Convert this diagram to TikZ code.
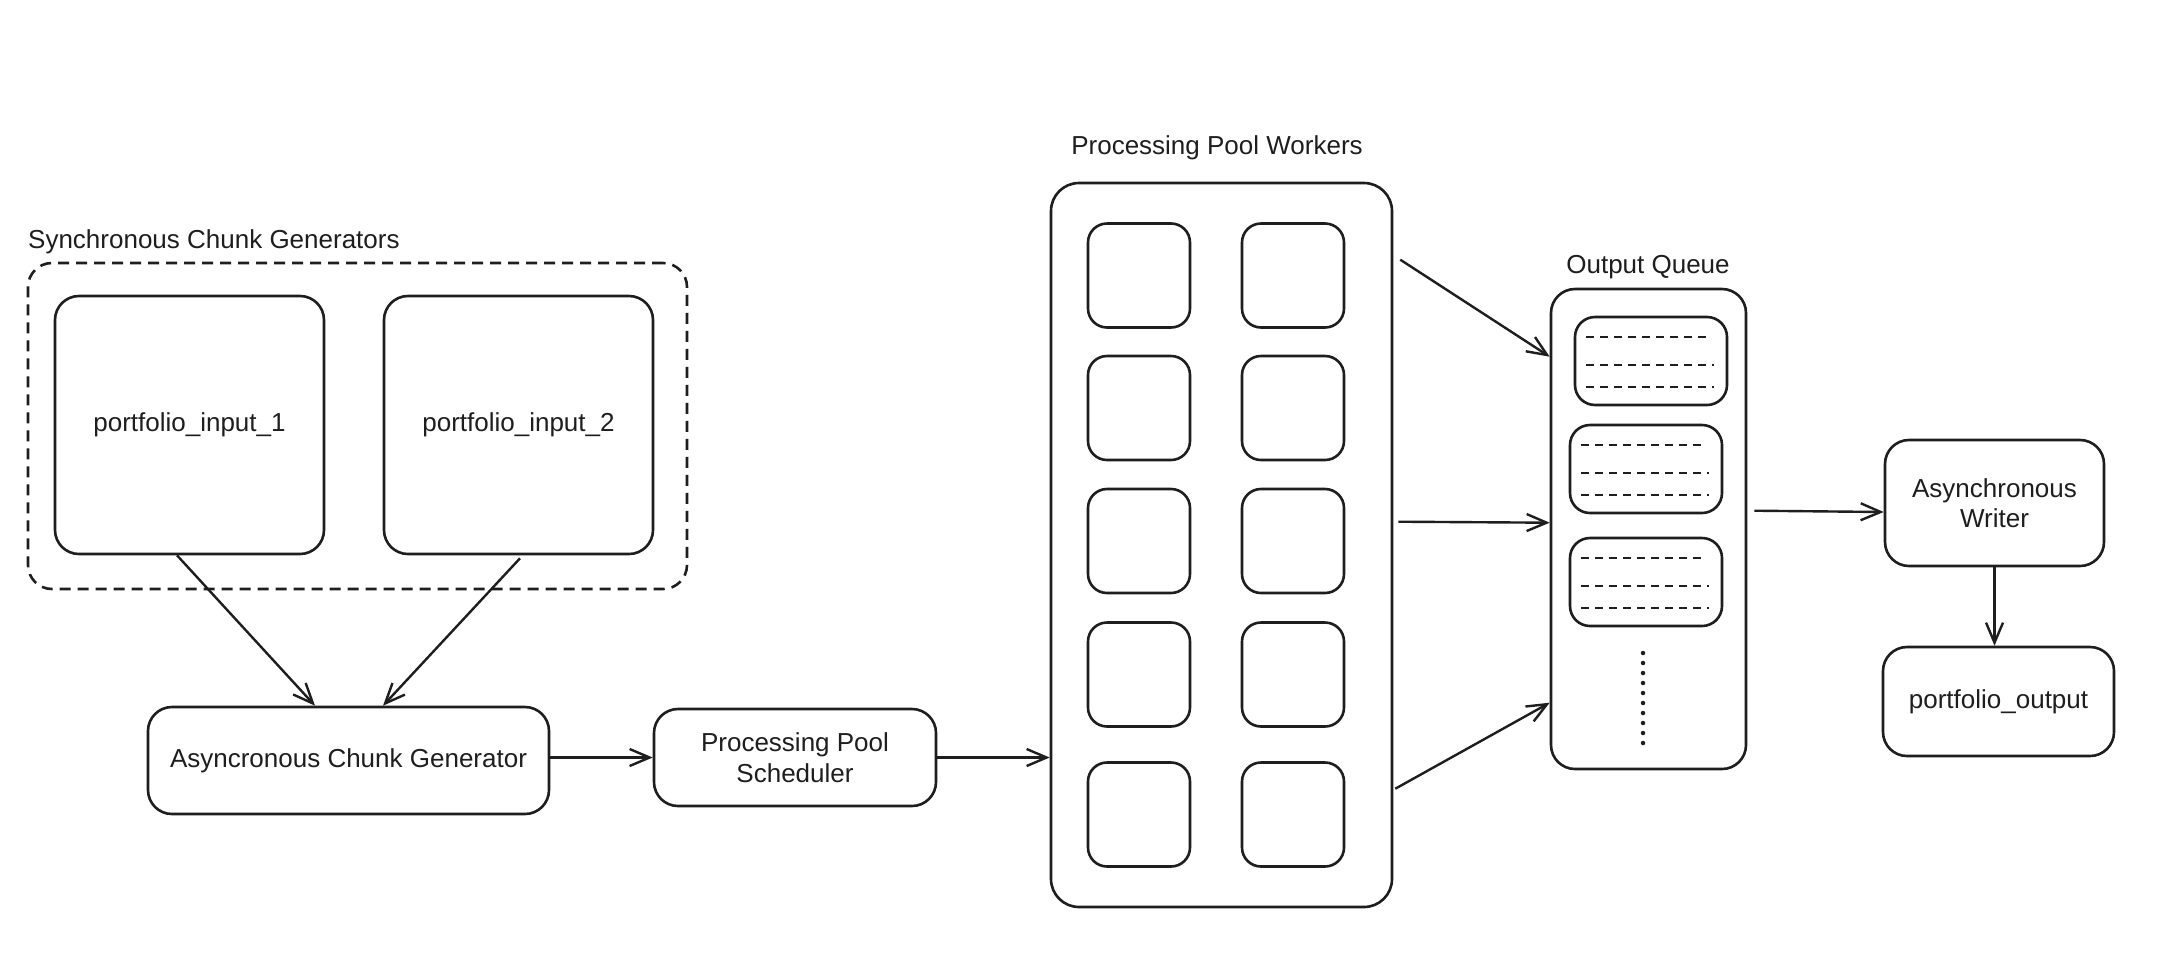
\documentclass[tikz,border=0pt]{standalone}
\usepackage{fontspec}
\setmainfont{Liberation Sans}
\usetikzlibrary{arrows.meta,calc}
\definecolor{ink}{HTML}{1E1E1E}
\newcommand\lblfont{\fontsize{26}{30.5}\selectfont}
\begin{document}
\begin{tikzpicture}[x=1pt,y=-1pt,
  box/.style={draw=ink, line width=2.6pt, rounded corners=24pt, inner sep=0pt, align=center, font=\lblfont, text=ink},
  groupbox/.style={draw=ink, line width=2.6pt, rounded corners=24pt, inner sep=0pt, dash pattern=on 11pt off 7pt},
  cell/.style={draw=ink, line width=2.6pt, rounded corners=19pt, minimum width=102pt, minimum height=104pt, inner sep=0pt},
  slot/.style={draw=ink, line width=2.6pt, rounded corners=20pt, minimum width=152pt, minimum height=88pt, inner sep=0pt},
  title/.style={font=\lblfont, inner sep=0pt, text=ink},
  conn/.style={draw=ink, line width=2.4pt, -{Straight Barb[length=20pt,width=17pt,line width=2.4pt]}},
  rowdash/.style={draw=ink, line width=2.6pt, dash pattern=on 8pt off 6pt},
  dotline/.style={draw=ink, line width=4.5pt, line cap=round, dash pattern=on 0pt off 10pt},
]
\fill[white] (0,0) rectangle (2168,962);
\useasboundingbox (0,0) rectangle (2168,962);

% Synchronous chunk generators
\node[title, anchor=west] (tsync) at (28,242) {Synchronous Chunk Generators};
\node[groupbox, minimum width=659pt, minimum height=326pt] (sync) at (357.5,426) {};
\node[box, minimum width=269pt, minimum height=258pt] (in1) at (189.5,425) {portfolio\_input\_1};
\node[box, minimum width=269pt, minimum height=258pt] (in2) at (518.5,425) {portfolio\_input\_2};

% async generator and scheduler
\node[box, minimum width=401pt, minimum height=107pt] (async) at (348.5,760.5) {Asyncronous Chunk Generator};
\node[box, minimum width=282pt, minimum height=97pt] (sched) at (795,757.5) {Processing Pool\\Scheduler};

% workers
\node[title] (twork) at (1217,148) {Processing Pool Workers};
\node[box, rounded corners=28pt, minimum width=341pt, minimum height=724pt] (work) at (1221.5,545) {};
\foreach \r/\y in {1/275.5, 2/408, 3/541, 4/674.5, 5/814.5} {
  \node[cell] (w\r a) at (1139,\y) {};
  \node[cell] (w\r b) at (1293,\y) {};
}

% output queue
\node[title] (tqueue) at (1648,267) {Output Queue};
\node[box, minimum width=195pt, minimum height=480pt] (queue) at (1648.5,529) {};
\node[slot] (q1) at (1651,361) {};
\node[slot] (q2) at (1646,469) {};
\node[slot] (q3) at (1646,582) {};
\foreach \q in {q1,q2,q3} {
  \draw[rowdash] ($(\q.center)+(-65,-24)$) -- ($(\q.center)+(58,-24)$);
  \draw[rowdash] ($(\q.center)+(-65,4)$) -- ($(\q.center)+(63,4)$);
  \draw[rowdash] ($(\q.center)+(-65,26)$) -- ($(\q.center)+(63,26)$);
}
\draw[dotline] (1643,653) -- (1643,746);

% writer and output
\node[box, minimum width=219pt, minimum height=126pt] (writer) at (1994.5,503) {Asynchronous\\Writer};
\node[box, minimum width=231pt, minimum height=109pt] (out) at (1998.5,701.5) {portfolio\_output};

% connectors
\draw[conn] ([xshift=-12.5pt]in1.south) -- ([xshift=-33.5pt]async.north);
\draw[conn] ([xshift=1.5pt,yshift=-3pt]in2.south) -- ([xshift=34.5pt]async.north);
\draw[conn] (async.east |- sched.west) -- (sched.west);
\draw[conn] (sched.east) -- (sched.east -| work.west);
\draw[conn] ($(work.north east)+(7,78)$) -- ($(queue.north west)+(0,69)$);
\draw[conn] ($(work.north east)+(5,340)$) -- ($(queue.north west)+(0,235)$);
\draw[conn] ($(work.north east)+(2,607)$) -- ($(queue.north west)+(0,415)$);
\draw[conn] ($(queue.north east)+(7,223)$) -- ($(writer.west)+(0,9)$);
\draw[conn] (writer.south) -- (writer.south |- out.north);
\end{tikzpicture}
\end{document}
